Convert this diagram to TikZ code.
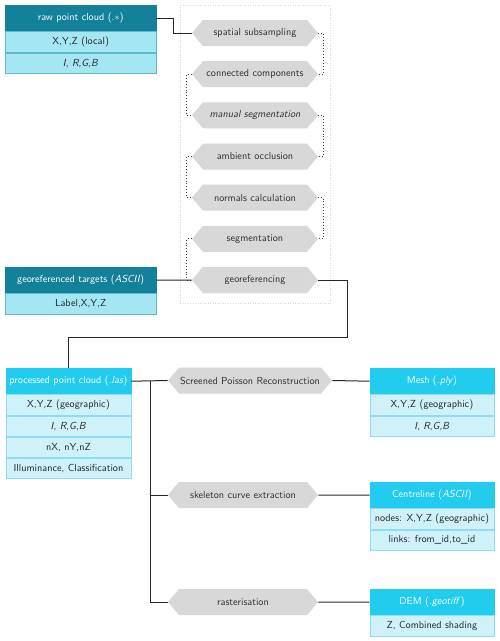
\documentclass[tikz,border=0pt]{standalone}
\usetikzlibrary{shapes.symbols,positioning,calc}
\definecolor{darkhead}{HTML}{138199}
\definecolor{darkrow}{HTML}{A5E6F3}
\definecolor{darkline}{HTML}{5FB9CC}
\definecolor{lighthead}{HTML}{22CCEE}
\definecolor{lightrow}{HTML}{CFF2FA}
\definecolor{lightline}{HTML}{8EDDF0}
\definecolor{hexgray}{HTML}{D8D8D8}
\definecolor{txt}{HTML}{262626}
\begin{document}
\begin{tikzpicture}[x=1pt,y=-1pt,
  font=\sffamily\fontsize{10.2}{12}\selectfont,
  hdark/.style={fill=darkhead,draw=darkhead,text=white,minimum height=26,inner sep=0,anchor=north west},
  rdark/.style={fill=darkrow,draw=darkline,text=txt,minimum height=20.7,inner sep=0,anchor=north},
  hlight/.style={fill=lighthead,draw=lighthead,text=white,minimum height=26,inner sep=0,anchor=north west},
  rlight/.style={fill=lightrow,draw=lightline,text=txt,minimum height=20.7,inner sep=0,anchor=north},
  hexbox/.style={signal,signal to=east and west,signal pointer angle=100,fill=hexgray,text=txt!95,minimum height=26,inner sep=0},
  link/.style={draw=black!85,line width=1pt},
  dotlink/.style={draw=black!75,line width=0.9pt,dotted}
]
\useasboundingbox (0,0) rectangle (500,641);
% frame
\node[draw=black!15,dotted,line width=0.5pt,minimum width=150,minimum height=298,inner sep=0,anchor=north west] (frame) at (180,5) {};

% raw point cloud
\node[hdark,minimum width=151] (rawh) at (5,5) {raw point cloud (.$\ast$)};
\node[rdark,minimum width=151] (raw1) at (rawh.south) {X,Y,Z (local)};
\node[rdark,minimum width=151] (raw2) at (raw1.south) {\textit{I}, \textit{R},\textit{G},\textit{B}};

% georeferenced targets
\node[hdark,minimum width=151] (geoh) at (5,267) {georeferenced targets (\textit{ASCII})};
\node[rdark,minimum width=151] (geo1) at (geoh.south) {Label,X,Y,Z};

% processing chain
\node[hexbox,minimum width=126] (h1) at (255,33) {spatial subsampling};
\node[hexbox,minimum width=126] (h2) at (255,74.2) {connected components};
\node[hexbox,minimum width=126] (h3) at (255,115.3) {\textit{manual segmentation}};
\node[hexbox,minimum width=126] (h4) at (255,156.5) {ambient occlusion};
\node[hexbox,minimum width=126] (h5) at (255,197.7) {normals calculation};
\node[hexbox,minimum width=126] (h6) at (255,238.8) {segmentation};
\node[hexbox,minimum width=126] (h7) at (255,280) {georeferencing};

\draw[dotlink] (h1.east) -- ++(5,0) |- (h2.east);
\draw[dotlink] (h2.west) -- ++(-5,0) |- (h3.west);
\draw[dotlink] (h3.east) -- ++(5,0) |- (h4.east);
\draw[dotlink] (h4.west) -- ++(-5,0) |- (h5.west);
\draw[dotlink] (h5.east) -- ++(5,0) |- (h6.east);
\draw[dotlink] (h6.west) -- ++(-5,0) |- (h7.west);

\draw[link] (rawh.east) -- ++(17,0) |- (h1.west);
\draw[link] (geoh.east) -- (h7.west);

% processed point cloud
\node[hlight,minimum width=125.5] (proch) at (5.5,368) {processed point cloud (\textit{.las})};
\node[rlight,minimum width=125.5] (proc1) at (proch.south) {X,Y,Z (geographic)};
\node[rlight,minimum width=125.5] (proc2) at (proc1.south) {\textit{I}, \textit{R},\textit{G},\textit{B}};
\node[rlight,minimum width=125.5] (proc3) at (proc2.south) {nX, nY,nZ};
\node[rlight,minimum width=125.5] (proc4) at (proc3.south) {Illuminance, Classification};

\draw[link] (h7.east) -- ++(29,0) -- ++(0,57) -| (proch.north);

% products
\node[hexbox,minimum width=164] (poi) at (250,380.5) {Screened Poisson Reconstruction};
\node[hexbox,minimum width=150] (skel) at (243,495) {skeleton curve extraction};
\node[hexbox,minimum width=150] (rast) at (243,602) {rasterisation};

\node[hlight,minimum width=124.5] (meshh) at (369.5,368) {Mesh (\textit{.ply})};
\node[rlight,minimum width=124.5] (mesh1) at (meshh.south) {X,Y,Z (geographic)};
\node[rlight,minimum width=124.5] (mesh2) at (mesh1.south) {\textit{I}, \textit{R},\textit{G},\textit{B}};

\node[hlight,minimum width=124.5] (centh) at (369.5,482) {Centreline (\textit{ASCII})};
\node[rlight,minimum width=124.5] (cent1) at (centh.south) {nodes: X,Y,Z (geographic)};
\node[rlight,minimum width=124.5] (cent2) at (cent1.south) {links: from\_id,to\_id};

\node[hlight,minimum width=124.5] (demh) at (369.5,589) {DEM (\textit{.geotiff})};
\node[rlight,minimum width=124.5] (dem1) at (demh.south) {Z, Combined shading};

\coordinate (bus) at ($(proch.east)+(19,0)$);
\draw[link] (proch.east) -- (poi.west);
\draw[link] (bus) |- (skel.west);
\draw[link] (bus) |- (rast.west);
\draw[link] (poi.east) -- (meshh.west);
\draw[link] (skel.east) -- (centh.west);
\draw[link] (rast.east) -- (demh.west);
\end{tikzpicture}
\end{document}
